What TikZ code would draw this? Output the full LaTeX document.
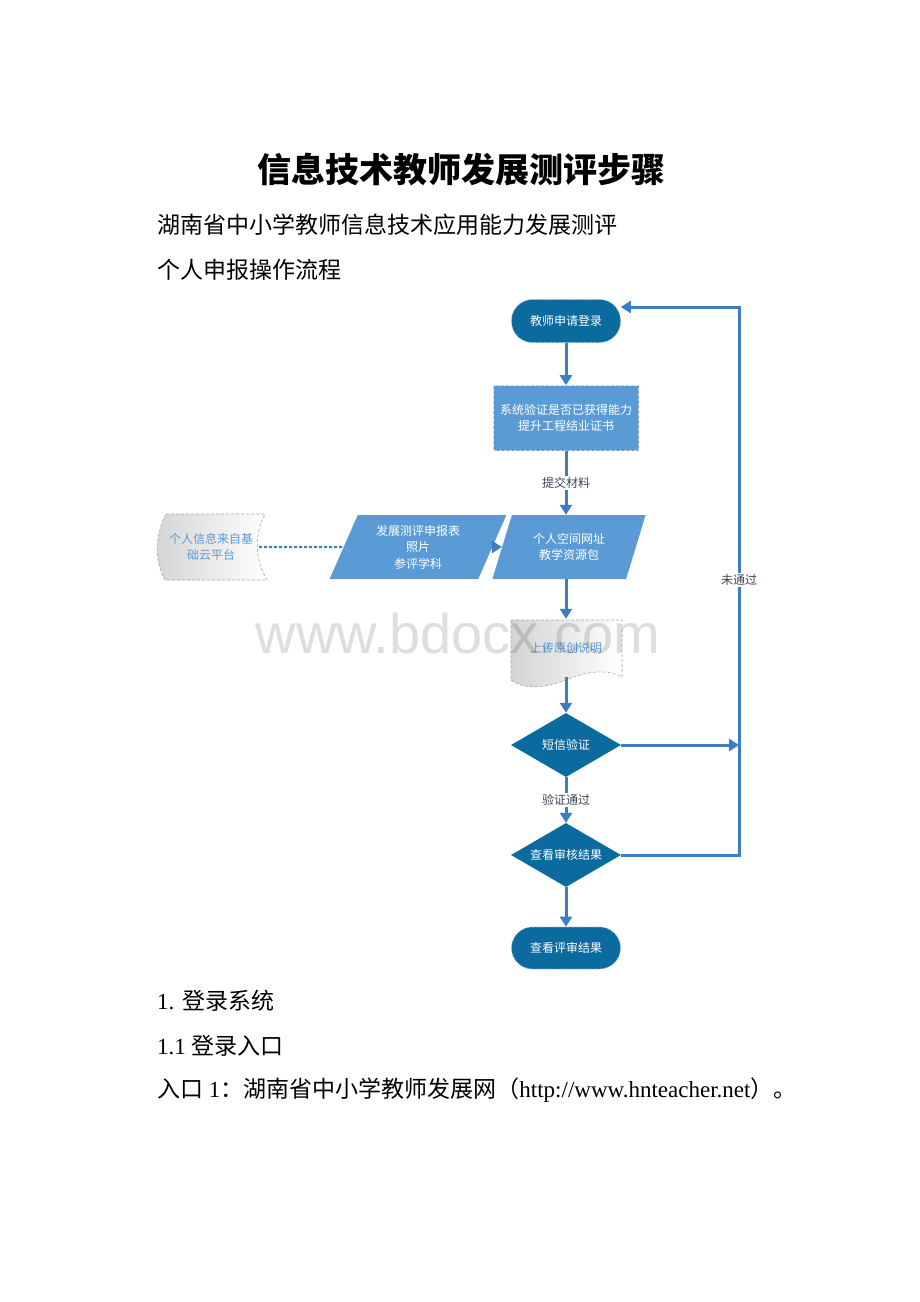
\documentclass[tikz,border=0pt]{standalone}
\usepackage{fontspec}
\setmainfont{Liberation Serif}
\setsansfont{Liberation Sans}
\newfontfamily\cjk{Noto Sans CJK SC}
\usetikzlibrary{shapes.geometric,arrows.meta}

\definecolor{darkblue}{HTML}{0B6A9E}
\definecolor{lightblue}{HTML}{5B9BD5}
\definecolor{flowline}{HTML}{3D7DC2}
\definecolor{labeltext}{HTML}{3A4556}

\tikzset{
  bodytext/.style={anchor=west, inner sep=0pt, font=\fontsize{23}{27}\selectfont},
  flowfont/.style={font=\cjk\fontsize{12}{16.5}\selectfont, align=center},
  terminal/.style={flowfont, rectangle, rounded corners=21pt, fill=darkblue, text=white,
    draw=white!55!darkblue, densely dashed, line width=0.6pt, inner sep=0pt,
    minimum width=109pt, minimum height=43pt},
  process/.style={flowfont, rectangle, fill=lightblue, text=white,
    draw=black!20, densely dashed, line width=0.6pt, inner sep=0pt,
    minimum width=145pt, minimum height=65pt},
  iodata/.style={flowfont, trapezium, trapezium left angle=66, trapezium right angle=114,
    trapezium stretches=true, fill=lightblue, text=white, inner sep=0pt, minimum height=64pt},
  decision/.style={flowfont, diamond, aspect=1.7, fill=darkblue, text=white, inner sep=0pt,
    minimum width=110pt, minimum height=64pt},
  docnote/.style={flowfont, text=lightblue, inner sep=0pt},
  docshape/.style={left color=black!17, right color=white, draw=black!35, densely dashed, line width=0.6pt},
  connector/.style={draw=flowline, line width=3pt},
  arrowed/.style={connector, -{Triangle[length=10pt,width=12pt]}},
  flowlabel/.style={flowfont, text=labeltext, fill=white, inner sep=1.5pt}
}

\begin{document}
\begin{tikzpicture}[x=1pt, y=-1pt]
  \useasboundingbox (0,0) rectangle (920,1302);

  % heading
  \node[font=\cjk\bfseries\fontsize{34}{40}\selectfont] (title) at (461,170) {信息技术教师发展测评步骤};
  \node[bodytext] (subtitle) at (157,225) {\cjk 湖南省中小学教师信息技术应用能力发展测评};
  \node[bodytext] (process) at (157,270) {\cjk 个人申报操作流程};

  % flowchart
  \node[terminal] (login) at (566,321) {教师申请登录};
  \node[process] (check) at (566,418) {系统验证是否已获得能力\\提升工程结业证书};
  \node[iodata, minimum width=177pt] (form) at (418,547) {发展测评申报表\\照片\\参评学科};
  \node[iodata, minimum width=154pt] (space) at (569,547) {个人空间网址\\教学资源包};
  \node[decision] (sms) at (566,745) {短信验证};
  \node[decision] (review) at (566,855) {查看审核结果};
  \node[terminal, minimum height=42pt] (result) at (566,948) {查看评审结果};

  % document shapes
  \draw[docshape] (166,514) -- (265,514) .. controls (254,535) and (255,560) .. (267,580)
    -- (165,580) .. controls (154,560) and (155,535) .. (166,514) -- cycle;
  \node[docnote, minimum width=96pt, minimum height=66pt] (cloud) at (211,547) {个人信息来自基\\础云平台};
  \draw[docshape] (511,620) -- (622,620) -- (622,677) .. controls (605,668) and (585,672) .. (566,680)
    .. controls (545,688) and (525,690) .. (511,680) -- cycle;
  \node[docnote, minimum width=111pt, minimum height=58pt] (upload) at (566,648) {上传原创说明};

  % connectors
  \coordinate (loop) at (739,580);
  \draw[arrowed] (login) -- (check);
  \draw[arrowed] (check) -- node[flowlabel] (submit) {提交材料} (check |- space.north);
  \draw[connector, densely dashed, line width=2.4pt] (cloud.east) -- (form.west);
  \draw[arrowed] (form.east) -- (space.west);
  \draw[arrowed] (upload.north |- space.south) -- (upload.north);
  \draw[arrowed] (upload.south) -- (sms);
  \draw[arrowed] (sms.east) -- (sms.east -| loop);
  \draw[arrowed] (sms) -- node[flowlabel] (pass) {验证通过} (review);
  \draw[arrowed] (review) -- (result);
  \draw[arrowed] (review.east) -| (loop) |- ([yshift=14pt]login.east);
  \node[flowlabel] (fail) at (loop) {未通过};

  % body text
  \node[bodytext] (step) at (157,1001) {1. {\cjk 登录系统}};
  \node[bodytext] (entry) at (157,1046) {1.1 {\cjk 登录入口}};
  \node[bodytext] (site) at (157,1090) {{\cjk 入口}~1{\cjk ：湖南省中小学教师发展网（}http://www.hnteacher.net{\cjk ）。}};

  % watermark
  \node[font=\sffamily\fontsize{56}{60}\selectfont, text=black, text opacity=0.13] (mark) at (458,633) {www.bdocx.com};
\end{tikzpicture}
\end{document}
